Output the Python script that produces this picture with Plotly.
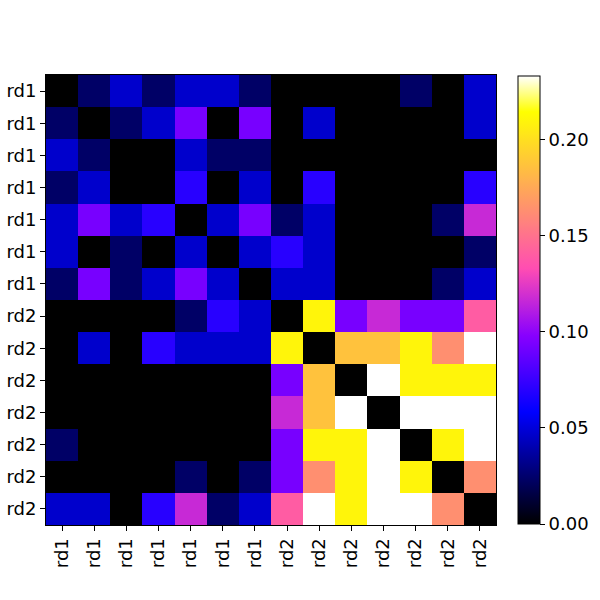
import numpy as np
import plotly.graph_objects as go

labels = ["rd1"] * 7 + ["rd2"] * 7

# values (symmetric matrix)
u = 0.2333 / 10
levels = [
    [0, 1, 2, 1, 2, 2, 1, 0, 0, 0, 0, 1, 0, 2],
    [1, 0, 1, 2, 4, 0, 4, 0, 2, 0, 0, 0, 0, 2],
    [2, 1, 0, 0, 2, 1, 1, 0, 0, 0, 0, 0, 0, 0],
    [1, 2, 0, 0, 3, 0, 2, 0, 3, 0, 0, 0, 0, 3],
    [2, 4, 2, 3, 0, 2, 4, 1, 2, 0, 0, 0, 1, 5],
    [2, 0, 1, 0, 2, 0, 2, 3, 2, 0, 0, 0, 0, 1],
    [1, 4, 1, 2, 4, 2, 0, 2, 2, 0, 0, 0, 1, 2],
    [0, 0, 0, 0, 1, 3, 2, 0, 9, 4, 5, 4, 4, 6],
    [0, 2, 0, 3, 2, 2, 2, 9, 0, 8, 8, 9, 7, 10],
    [0, 0, 0, 0, 0, 0, 0, 4, 8, 0, 10, 9, 9, 9],
    [0, 0, 0, 0, 0, 0, 0, 5, 8, 10, 0, 10, 10, 10],
    [1, 0, 0, 0, 0, 0, 0, 4, 9, 9, 10, 0, 9, 10],
    [0, 0, 0, 0, 1, 0, 1, 4, 7, 9, 10, 9, 0, 7],
    [2, 2, 0, 3, 5, 1, 2, 6, 10, 9, 10, 10, 7, 0],
]
values = [[round(k * u, 4) for k in row] for row in levels]
zmax = 0.2333
cbar_ticks = [0.0, 0.05, 0.10, 0.15, 0.20]


def gnuplot2(x):
    r = np.clip(x / 0.32 - 0.78125, 0, 1)
    g = np.clip(2 * x - 0.84, 0, 1)
    if x < 0.25:
        b = 4 * x
    elif x < 0.42:
        b = 1.0
    elif x < 0.92:
        b = -2 * x + 1.84
    else:
        b = x / 0.08 - 11.5
    b = np.clip(b, 0, 1)
    return f"rgb({int(round(r*255))},{int(round(g*255))},{int(round(b*255))})"


cs = [[float(x), gnuplot2(x)] for x in np.linspace(0, 1, 101)]

FONT = dict(family="DejaVu Sans", size=18, color="black")

n = len(labels)
fig = go.Figure(
    go.Heatmap(
        z=values,
        x=list(range(n)),
        y=list(range(n)),
        colorscale=cs,
        zmin=0,
        zmax=zmax,
        colorbar=dict(
            x=1 + 22 / 450,
            xanchor="left",
            xref="paper",
            xpad=0,
            ypad=0,
            y=0.5,
            yanchor="middle",
            len=448 / 450,
            lenmode="fraction",
            thickness=22,
            thicknessmode="pixels",
            outlinewidth=1,
            outlinecolor="black",
            tickvals=cbar_ticks,
            ticktext=[f"{t:.2f}" for t in cbar_ticks],
            ticks="outside",
            ticklen=5,
            tickwidth=1,
            tickcolor="black",
            tickfont=FONT,
        ),
        hoverinfo="z",
    )
)

axis_common = dict(
    showgrid=False,
    zeroline=False,
    showline=True,
    linecolor="black",
    linewidth=1,
    mirror=True,
    ticks="outside",
    ticklen=5,
    tickwidth=1,
    tickcolor="black",
    tickfont=FONT,
    tickmode="array",
    tickvals=list(range(n)),
    ticktext=labels,
    automargin=False,
)

fig.update_layout(
    width=600,
    height=600,
    margin=dict(l=46, r=104, t=75, b=75, autoexpand=False),
    paper_bgcolor="white",
    plot_bgcolor="white",
    xaxis=dict(**axis_common, tickangle=-90, range=[-0.5, n - 0.5]),
    yaxis=dict(**axis_common, range=[n - 0.5, -0.5]),
)

fig.write_html(
    "out.html",
    config={"displayModeBar": False},
    post_script="document.body.style.margin='0';document.body.style.overflow='hidden';",
)
